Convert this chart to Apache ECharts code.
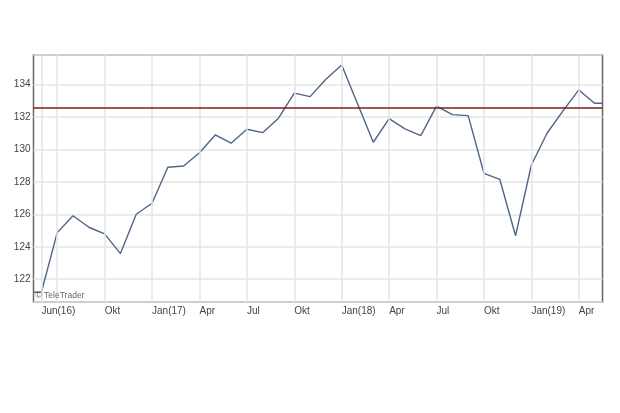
<!DOCTYPE html>
<html>
<head>
<meta charset="utf-8">
<script src="https://cdn.jsdelivr.net/npm/echarts@6/dist/echarts.min.js"></script>
<style>
  html, body { margin: 0; padding: 0; background: #ffffff; }
  #chart { width: 620px; height: 413px; }
</style>
</head>
<body>
<div id="chart"></div>
<script>
// Month index: 0 = Jun 2016 ... 35 = May 2019 (monthly closes)
var monthIndex = [0,1,2,3,4,5,6,7,8,9,10,11,12,13,14,15,16,17,18,19,20,21,22,23,24,25,26,27,28,29,30,31,32,33,34,35];
var prices = [121.2,124.87,125.91,125.2,124.79,123.58,126.0,126.68,128.89,128.97,129.79,130.88,
              130.37,131.23,131.02,131.91,133.45,133.24,134.31,135.19,132.8,130.43,131.88,131.25,
              130.84,132.65,132.13,132.07,128.52,128.15,124.68,129.03,131.0,132.36,133.65,132.83];
// series extends flat to the window edges (mid-May 2016 .. mid-May 2019)
var windowStart = -0.5;
var windowEnd = 35.5;

var gridMonths = [0,1,4,7,10,13,16,19,22,25,28,31,34];
var tickMonths = [0,4,7,10,13,16,19,22,25,28,31,34];
var tickLabels = ['Jun(16)','Okt','Jan(17)','Apr','Jul','Okt','Jan(18)','Apr','Jul','Okt','Jan(19)','Apr'];

var refLevel = 132.55;
var yMin = 120.6, yMax = 135.8, yStep = 2;

var lineData = [[windowStart, prices[0]]];
for (var i = 0; i < monthIndex.length; i++) lineData.push([monthIndex[i], prices[i]]);
lineData.push([windowEnd, prices[prices.length - 1]]);

var labelMap = {};
tickMonths.forEach(function (m, i) { labelMap[m] = tickLabels[i]; });

var FONT = 'Liberation Sans, Arial, sans-serif';

var chart = echarts.init(document.getElementById('chart'), null, { renderer: 'canvas' });
chart.setOption({
  animation: false,
  backgroundColor: '#ffffff',
  grid: {
    left: 33.5, top: 55, right: 17.5, bottom: 111,
    show: true, borderColor: '#666666', borderWidth: 1.5,
    backgroundColor: 'transparent',
    containLabel: false, outerBoundsMode: 'none'
  },
  xAxis: {
    type: 'value',
    min: windowStart, max: windowEnd, interval: 0.5,
    axisLine: { show: false },
    axisTick: { show: false },
    splitLine: { show: false },
    axisLabel: {
      show: true, align: 'left', margin: 4,
      fontFamily: FONT, fontSize: 10, color: '#444444',
      showMinLabel: true, showMaxLabel: true,
      formatter: function (v) {
        var k = Math.round(v * 2) / 2;
        return labelMap.hasOwnProperty(k) ? labelMap[k] : '';
      }
    }
  },
  yAxis: {
    type: 'value',
    min: yMin, max: yMax, minInterval: yStep, maxInterval: yStep,
    axisLine: { show: false },
    axisTick: { show: false },
    splitLine: { show: true, lineStyle: { color: '#e4e4e4', width: 1.5 } },
    axisLabel: {
      margin: 3, fontFamily: FONT, fontSize: 10, color: '#444444',
      showMinLabel: false, showMaxLabel: false,
      formatter: function (v) {
        return (Math.abs(v - Math.round(v)) < 1e-6 && Math.round(v) % 2 === 0) ? String(Math.round(v)) : '';
      }
    }
  },
  series: [
    {
      type: 'line', z: 1, data: [], silent: true,
      markLine: {
        silent: true, symbol: ['none', 'none'], animation: false,
        label: { show: false },
        lineStyle: { color: '#e4e4e4', width: 1.5, type: 'solid' },
        data: gridMonths.map(function (m) { return { xAxis: m }; })
      }
    },
    {
      type: 'line', z: 3,
      data: lineData,
      showSymbol: false, symbol: 'none',
      lineStyle: { color: '#4f6587', width: 1.4 },
      markLine: {
        silent: true, symbol: ['none', 'none'], animation: false,
        label: { show: false },
        lineStyle: { color: '#7a1e1e', width: 1.5, type: 'solid' },
        data: [{ yAxis: refLevel }]
      }
    }
  ],
  graphic: [
    {
      type: 'text', left: 35.5, top: 291.5, z: 10,
      style: { text: '\u00A9 TeleTrader', fontFamily: FONT, fontSize: 8.5, fill: '#6a6a6a' }
    }
  ]
});
</script>
</body>
</html>
